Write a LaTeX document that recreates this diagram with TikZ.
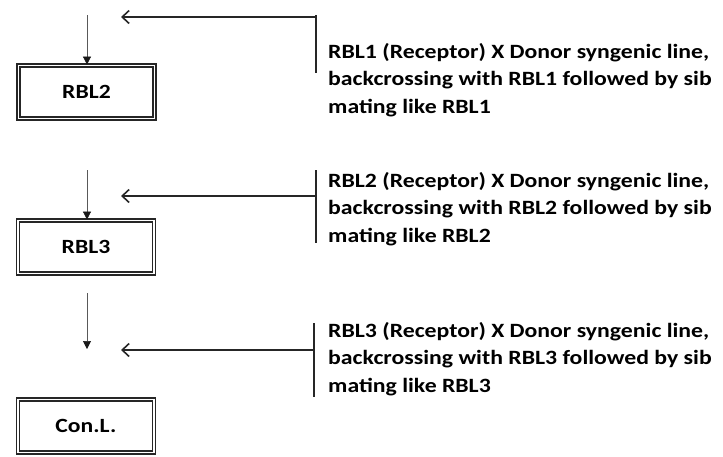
\documentclass[tikz,border=0pt]{standalone}
\usepackage{fontspec}
\setmainfont{Carlito}[FakeStretch=1.17]
\usetikzlibrary{arrows.meta}
\tikzset{
  stagebox/.style={draw=black!85, line width=1.8pt, double=white, double distance=1.2pt,
    minimum width=136pt, minimum height=53pt, inner sep=0pt, font=\fontsize{20.2}{24}\selectfont\bfseries},
  downarrow/.style={draw=black!65, line width=0.7pt, -{Triangle[length=8pt,width=8pt,color=black!90]}},
  sidearrow/.style={draw=black!85, line width=1.6pt, -{Straight Barb[length=7pt,width=13pt,line width=1.6pt]}},
  sidebar/.style={draw=black!85, line width=1.6pt},
  note/.style={anchor=north west, align=left, inner sep=0pt,
    font=\fontsize{20.3}{27.5}\selectfont\bfseries}
}
\begin{document}
\begin{tikzpicture}[x=1pt,y=-1pt]
\useasboundingbox (0,0) rectangle (723,456);
% stage boxes
\node[stagebox] (b2) at (86.5,92) {RBL2};
\node[stagebox] (b3) at (86,247) {RBL3};
\node[stagebox] (b4) at (86,426) {Con.L.};
% vertical arrows
\coordinate (v1) at (87,15);
\coordinate (v2) at (87,170);
\coordinate (v3) at (87,293);
\coordinate (v3e) at (87,349);
\draw[downarrow] (v1) -- (v1 |- b2.north);
\draw[downarrow] (v2) -- (v2 |- b3.north);
\draw[downarrow] (v3) -- (v3e);
% side brackets and arrows
\coordinate (s1t) at (316,15);
\coordinate (s1b) at (316,73);
\coordinate (s1m) at (316,17);
\coordinate (s1e) at (121,17);
\draw[sidebar] (s1t) -- (s1b);
\draw[sidearrow] (s1m) -- (s1e);
\coordinate (s2t) at (316,170);
\coordinate (s2b) at (316,243);
\coordinate (s2m) at (316,196);
\coordinate (s2e) at (121,196);
\draw[sidebar] (s2t) -- (s2b);
\draw[sidearrow] (s2m) -- (s2e);
\coordinate (s3t) at (314,323);
\coordinate (s3b) at (314,397);
\coordinate (s3m) at (314,350);
\coordinate (s3e) at (121,350);
\draw[sidebar] (s3t) -- (s3b);
\draw[sidearrow] (s3m) -- (s3e);
% notes
\node[note] (n1) at (328,43) {RBL1 (Receptor) X Donor syngenic line,\\backcrossing with RBL1 followed by sib\\mating like RBL1};
\node[note] (n2) at (328,172) {RBL2 (Receptor) X Donor syngenic line,\\backcrossing with RBL2 followed by sib\\mating like RBL2};
\node[note] (n3) at (328,322) {RBL3 (Receptor) X Donor syngenic line,\\backcrossing with RBL3 followed by sib\\mating like RBL3};
\end{tikzpicture}
\end{document}
